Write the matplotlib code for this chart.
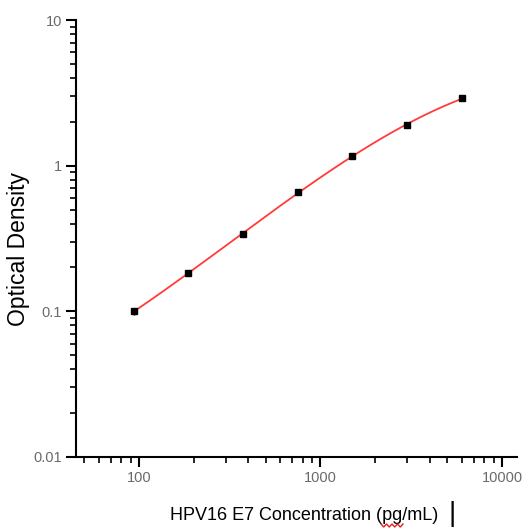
import numpy as np
import matplotlib
matplotlib.use("Agg")
import matplotlib.pyplot as plt
from matplotlib.ticker import LogLocator, NullFormatter, FixedLocator, FixedFormatter

plt.rcParams['font.family'] = ['Liberation Sans', 'DejaVu Sans']

# standard curve data
conc = [93.75, 187.5, 375, 750, 1500, 3000, 6000]
od = [0.100, 0.183, 0.340, 0.660, 1.17, 1.89, 2.90]
od_err = [0.006, 0.008, 0.012, 0.02, 0.04, 0.06, 0.09]

x_ticks = [100, 1000, 10000]
x_ticklabels = ['100', '1000', '10000']
y_ticks = [0.01, 0.1, 1, 10]
y_ticklabels = ['0.01', '0.1', '1', '10']

fig = plt.figure(figsize=(5.26, 5.29), dpi=100)
ax = fig.add_axes([76 / 526, 1 - 457 / 529, (517 - 76) / 526, (457 - 20) / 529])

# smooth fit in log-log space
lx, ly = np.log10(conc), np.log10(od)
coef = np.polyfit(lx, ly, 3)
xs = np.linspace(lx[0], lx[-1], 200)
ax.plot(10 ** xs, 10 ** np.polyval(coef, xs), color='#ff3b3b', lw=1.3, zorder=2)

ax.errorbar(conc, od, yerr=od_err, fmt='s', color='black', ms=5,
            elinewidth=1, capsize=0, zorder=3)

ax.set_xscale('log')
ax.set_yscale('log')
ax.set_xlim(45, 12100)
ax.set_ylim(0.01, 10)

ax.xaxis.set_major_locator(FixedLocator(x_ticks))
ax.xaxis.set_major_formatter(FixedFormatter(x_ticklabels))
ax.xaxis.set_minor_locator(LogLocator(base=10, subs=np.arange(2, 10)))
ax.xaxis.set_minor_formatter(NullFormatter())
ax.yaxis.set_major_locator(FixedLocator(y_ticks))
ax.yaxis.set_major_formatter(FixedFormatter(y_ticklabels))
ax.yaxis.set_minor_locator(LogLocator(base=10, subs=np.arange(2, 10)))
ax.yaxis.set_minor_formatter(NullFormatter())

for s in ['top', 'right']:
    ax.spines[s].set_visible(False)
for s in ['left', 'bottom']:
    ax.spines[s].set_linewidth(1.5)

ax.tick_params(which='major', length=7, width=1.5, labelsize=10.5, labelcolor='#6a6a6a', pad=3)
ax.tick_params(which='minor', length=4.5, width=1.2)

ax.set_ylabel('Optical Density', fontsize=16.5)
ax.yaxis.set_label_coords((30 - 76) / 441, 0.5 - 10 / 437)
ax.set_xlabel('HPV16 E7 Concentration (pg/mL)', fontsize=13)
ax.xaxis.set_label_coords((304 - 76) / 441, (457 - 507) / 437)
fig.text(452 / 526, 1 - 514 / 529, '|', fontsize=20, ha='center', va='center')

# red spell-check squiggle under "pg"
zx = np.linspace(381, 403, 9) / 526
zy = (1 - np.array([524, 527] * 5)[:9] / 529)
fig.add_artist(plt.Line2D(zx, zy, color='#e02020', lw=1, transform=fig.transFigure))

fig.savefig('out.png', dpi=100)
